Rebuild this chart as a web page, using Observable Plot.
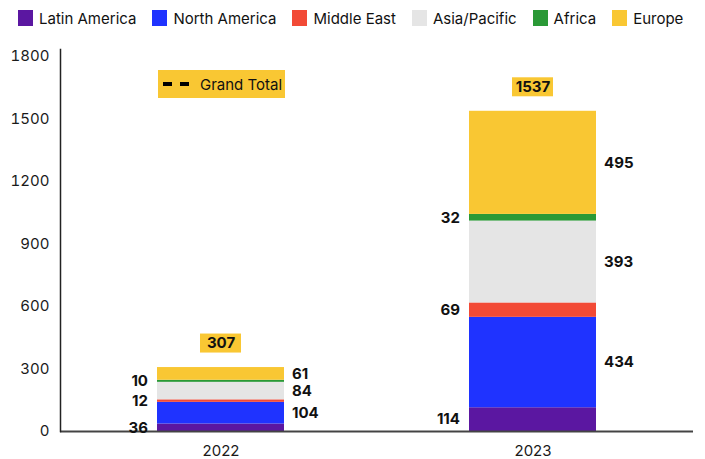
<!DOCTYPE html>
<html><head><meta charset="utf-8">
<script src="https://cdn.jsdelivr.net/npm/d3@7"></script>
<script src="https://cdn.jsdelivr.net/npm/@observablehq/plot@0.6"></script>
<style>
body{margin:0;background:#fff;font-family:Inter,"Noto Sans",sans-serif;}
#wrap{position:relative;width:705px;height:459px;overflow:hidden;}
#legend{display:flex;align-items:center;height:36px;padding-left:18px;font-size:15px;color:#111;box-sizing:border-box;}
.item{display:flex;align-items:center;margin-right:16px;white-space:nowrap;}
.sw{width:15px;height:16px;margin-right:6px;}
#gt{position:absolute;left:158px;top:70px;width:127px;height:28px;background:#F9C733;display:flex;align-items:center;font-size:15px;color:#111;}
.dash{width:9px;height:4px;background:#000;margin-left:5px;}
#gt span{margin-left:11px;}
#chart svg{display:block;}
</style></head>
<body>
<div id="wrap">
  <div id="legend"></div>
  <div id="chart"></div>
  <div id="gt"><div class="dash"></div><div class="dash" style="margin-left:8px"></div><span>Grand Total</span></div>
</div>
<script>
const years = ["2022", "2023"];
const regions = ["Latin America", "North America", "Middle East", "Asia/Pacific", "Africa", "Europe"];
const colors = ["#5B17A1", "#1F33FF", "#F24A36", "#E5E5E5", "#2A9936", "#F9C733"];
const values2022 = [36, 104, 12, 84, 10, 61];
const values2023 = [114, 434, 69, 393, 32, 495];
const totals = [307, 1537];
const leftLabelRegions = ["Latin America", "Middle East", "Africa"];
const yTicks = [0, 300, 600, 900, 1200, 1500, 1800];

const rows = [];
regions.forEach((r, i) => {
  rows.push({year: years[0], region: r, value: values2022[i]});
  rows.push({year: years[1], region: r, value: values2023[i]});
});
const totalRows = years.map((y, i) => ({year: y, total: totals[i]}));

// legend
const legend = document.getElementById("legend");
regions.forEach((r, i) => {
  const it = document.createElement("div");
  it.className = "item";
  const sw = document.createElement("div");
  sw.className = "sw";
  sw.style.background = colors[i];
  const t = document.createElement("span");
  t.textContent = r;
  it.appendChild(sw); it.appendChild(t);
  legend.appendChild(it);
});

const isLeft = d => leftLabelRegions.includes(d.region);

const plot = Plot.plot({
  width: 705,
  height: 423,
  marginTop: 13,
  marginBottom: 28,
  marginLeft: 60,
  marginRight: 12,
  style: {fontFamily: "Inter, sans-serif", fontSize: "15px", color: "#1a1a1a", background: "transparent"},
  x: {domain: years, paddingInner: 0.594, paddingOuter: 0.31, label: null},
  y: {domain: [0, 1800], range: [395, 20], label: null},
  color: {domain: regions, range: colors},
  marks: [
    Plot.barY(rows, {x: "year", y: "value", fill: "region", order: regions}),
    Plot.ruleY([0], {stroke: "#444", strokeWidth: 2}),
    Plot.frame({anchor: "left", stroke: "#222", strokeWidth: 1.5}),
    Plot.axisY({ticks: yTicks, tickSize: 0, tickPadding: 11, label: null, tickFormat: d => String(d)}),
    Plot.axisX({tickSize: 0, tickPadding: 14, label: null}),
    Plot.text(rows, Plot.stackY({
      x: "year", y: "value", z: "region", order: regions,
      text: d => isLeft(d) ? String(d.value) : null,
      textAnchor: "end", dx: -73, fontWeight: 700, fill: "#111"
    })),
    Plot.text(rows, Plot.stackY({
      x: "year", y: "value", z: "region", order: regions,
      text: d => isLeft(d) ? null : String(d.value),
      textAnchor: "start", dx: 71, fontWeight: 700, fill: "#111"
    })),
    Plot.barY(totalRows, {
      x: "year", y1: "total", y2: "total",
      insetLeft: 43, insetRight: 43, insetTop: -9.5, insetBottom: -9.5,
      dy: -24, fill: "#F9C733"
    }),
    Plot.text(totalRows, {x: "year", y: "total", text: d => String(d.total), dy: -24, fontWeight: 700, fill: "#111"})
  ]
});
document.getElementById("chart").appendChild(plot);
</script>
</body></html>
